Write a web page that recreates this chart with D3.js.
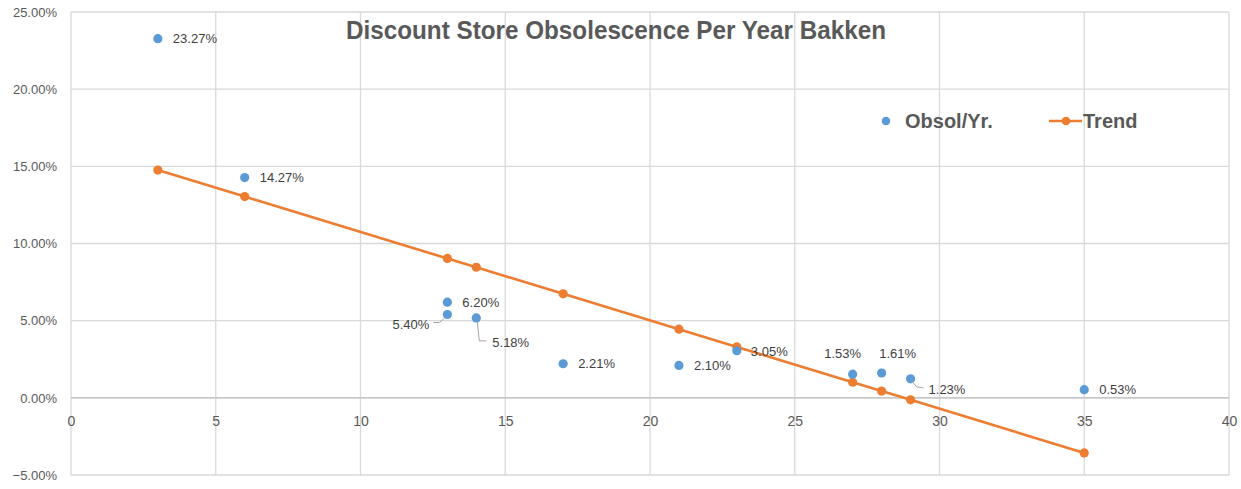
<!DOCTYPE html>
<html>
<head>
<meta charset="utf-8">
<script src="https://cdn.jsdelivr.net/npm/d3@7"></script>
<style>
  html, body { margin: 0; padding: 0; background: #fff; }
  svg { display: block; }
  text { font-family: "Liberation Sans", Arial, sans-serif; }
</style>
</head>
<body>
<svg id="chart" width="1241" height="489"></svg>
<script>
// Years in service and observed obsolescence per year (%)
const years = [3, 6, 13, 13, 14, 17, 21, 23, 27, 28, 29, 35];
const obsolPct = [23.27, 14.27, 6.20, 5.40, 5.18, 2.21, 2.10, 3.05, 1.53, 1.61, 1.23, 0.53];

// Trend line points
const trendYears = [3, 6, 13, 14, 17, 21, 23, 27, 28, 29, 35];
const trendPct = [14.76, 13.04, 9.03, 8.46, 6.74, 4.45, 3.30, 1.01, 0.44, -0.13, -3.57];

const xTicks = [0, 5, 10, 15, 20, 25, 30, 35, 40];
const yTicks = [-5, 0, 5, 10, 15, 20, 25];

const seriesNames = ["Obsol/Yr.", "Trend"];
const titleText = "Discount Store Obsolescence Per Year Bakken";

const W = 1241, H = 489;
const margin = { top: 12, right: 12, bottom: 14, left: 71 };
const BLUE = "#5B9BD5", ORANGE = "#ED7D31", GRID = "#d9d9d9", TXT = "#595959", LBL = "#404040";

const svg = d3.select("#chart");

const x = d3.scaleLinear().domain([0, 40]).range([margin.left, W - margin.right]);
const y = d3.scaleLinear().domain([-5, 25]).range([H - margin.bottom, margin.top]);

// Grid
const grid = svg.append("g");
grid.selectAll("line.v").data(xTicks).join("line")
  .attr("x1", d => x(d)).attr("x2", d => x(d))
  .attr("y1", y(25)).attr("y2", y(-5))
  .attr("stroke", GRID).attr("stroke-width", 1.3);
grid.selectAll("line.h").data(yTicks).join("line")
  .attr("x1", x(0)).attr("x2", x(40))
  .attr("y1", d => y(d)).attr("y2", d => y(d))
  .attr("stroke", d => d === 0 ? "#c8c8c8" : GRID).attr("stroke-width", d => d === 0 ? 1.8 : 1.3);

// Y axis labels
const yAxis = d3.axisLeft(y).tickValues(yTicks).tickSize(0).tickPadding(14)
  .tickFormat(d => d3.format(".2f")(d) + "%");
svg.append("g").attr("transform", `translate(${x(0)},0)`).call(yAxis)
  .call(g => g.select(".domain").remove())
  .selectAll("text")
  .attr("fill", TXT).style("font-size", "13px")
  .style("font-family", '"Liberation Sans", Arial, sans-serif');

// X axis labels sit just below the zero line
const xAxis = d3.axisBottom(x).tickValues(xTicks).tickSize(0).tickPadding(18);
svg.append("g").attr("transform", `translate(0,${y(0)})`).call(xAxis)
  .call(g => g.select(".domain").remove())
  .selectAll("text")
  .attr("fill", TXT).style("font-size", "14px")
  .style("font-family", '"Liberation Sans", Arial, sans-serif');

// Trend line
const line = d3.line().x((d, i) => x(trendYears[i])).y(d => y(d));
svg.append("path").datum(trendPct)
  .attr("d", line).attr("fill", "none")
  .attr("stroke", ORANGE).attr("stroke-width", 2.6);
svg.selectAll("circle.trend").data(trendPct).join("circle")
  .attr("class", "trend")
  .attr("cx", (d, i) => x(trendYears[i])).attr("cy", d => y(d))
  .attr("r", 4.6).attr("fill", ORANGE);

// Observed points
svg.selectAll("circle.obs").data(obsolPct).join("circle")
  .attr("class", "obs")
  .attr("cx", (d, i) => x(years[i])).attr("cy", d => y(d))
  .attr("r", 4.6).attr("fill", BLUE);

// Data label placement (offset from the point, anchor, optional leader)
const labelPlace = {
  default: { dx: 15, dy: 0, anchor: "start" },
  3: { dx: -18, dy: 10, anchor: "end", leader: [[-3, 4], [-8, 8], [-14, 8]] },
  4: { dx: 16, dy: 25, anchor: "start", leader: [[1, 4], [3, 23], [10, 23]] },
  7: { dx: 14, dy: 1, anchor: "start" },
  8: { dx: -10, dy: -21, anchor: "middle" },
  9: { dx: 16, dy: -20, anchor: "middle" },
  10: { dx: 18, dy: 11, anchor: "start", leader: [[1, 2], [6, 8], [13, 9]] }
};

const labels = svg.append("g");
obsolPct.forEach((v, i) => {
  const p = labelPlace[i] || labelPlace.default;
  const cx = x(years[i]), cy = y(v);
  if (p.leader) {
    labels.append("path")
      .attr("d", d3.line()(p.leader.map(q => [cx + q[0], cy + q[1]])))
      .attr("fill", "none").attr("stroke", "#a6a6a6").attr("stroke-width", 1);
  }
  labels.append("text")
    .attr("x", cx + p.dx).attr("y", cy + p.dy)
    .attr("dy", "0.35em").attr("text-anchor", p.anchor)
    .attr("fill", LBL).style("font-size", "13px")
    .text(d3.format(".2f")(v) + "%");
});

// Title
svg.append("text")
  .attr("x", 616).attr("y", 39).attr("text-anchor", "middle")
  .attr("fill", TXT).style("font-size", "26px").style("font-weight", "bold")
  .attr("textLength", 540).attr("lengthAdjust", "spacingAndGlyphs")
  .text(titleText);

// Legend
const lg = svg.append("g");
lg.append("circle").attr("cx", 886).attr("cy", 121).attr("r", 4.3).attr("fill", BLUE);
lg.append("text").attr("x", 905).attr("y", 121).attr("dy", "0.35em")
  .attr("fill", TXT).style("font-size", "20px").style("font-weight", "bold")
  .text(seriesNames[0]);
lg.append("line").attr("x1", 1049).attr("x2", 1082).attr("y1", 121).attr("y2", 121)
  .attr("stroke", ORANGE).attr("stroke-width", 2.6);
lg.append("circle").attr("cx", 1066).attr("cy", 121).attr("r", 4.3).attr("fill", ORANGE);
lg.append("text").attr("x", 1083).attr("y", 121).attr("dy", "0.35em")
  .attr("fill", TXT).style("font-size", "20px").style("font-weight", "bold")
  .text(seriesNames[1]);
</script>
</body>
</html>
